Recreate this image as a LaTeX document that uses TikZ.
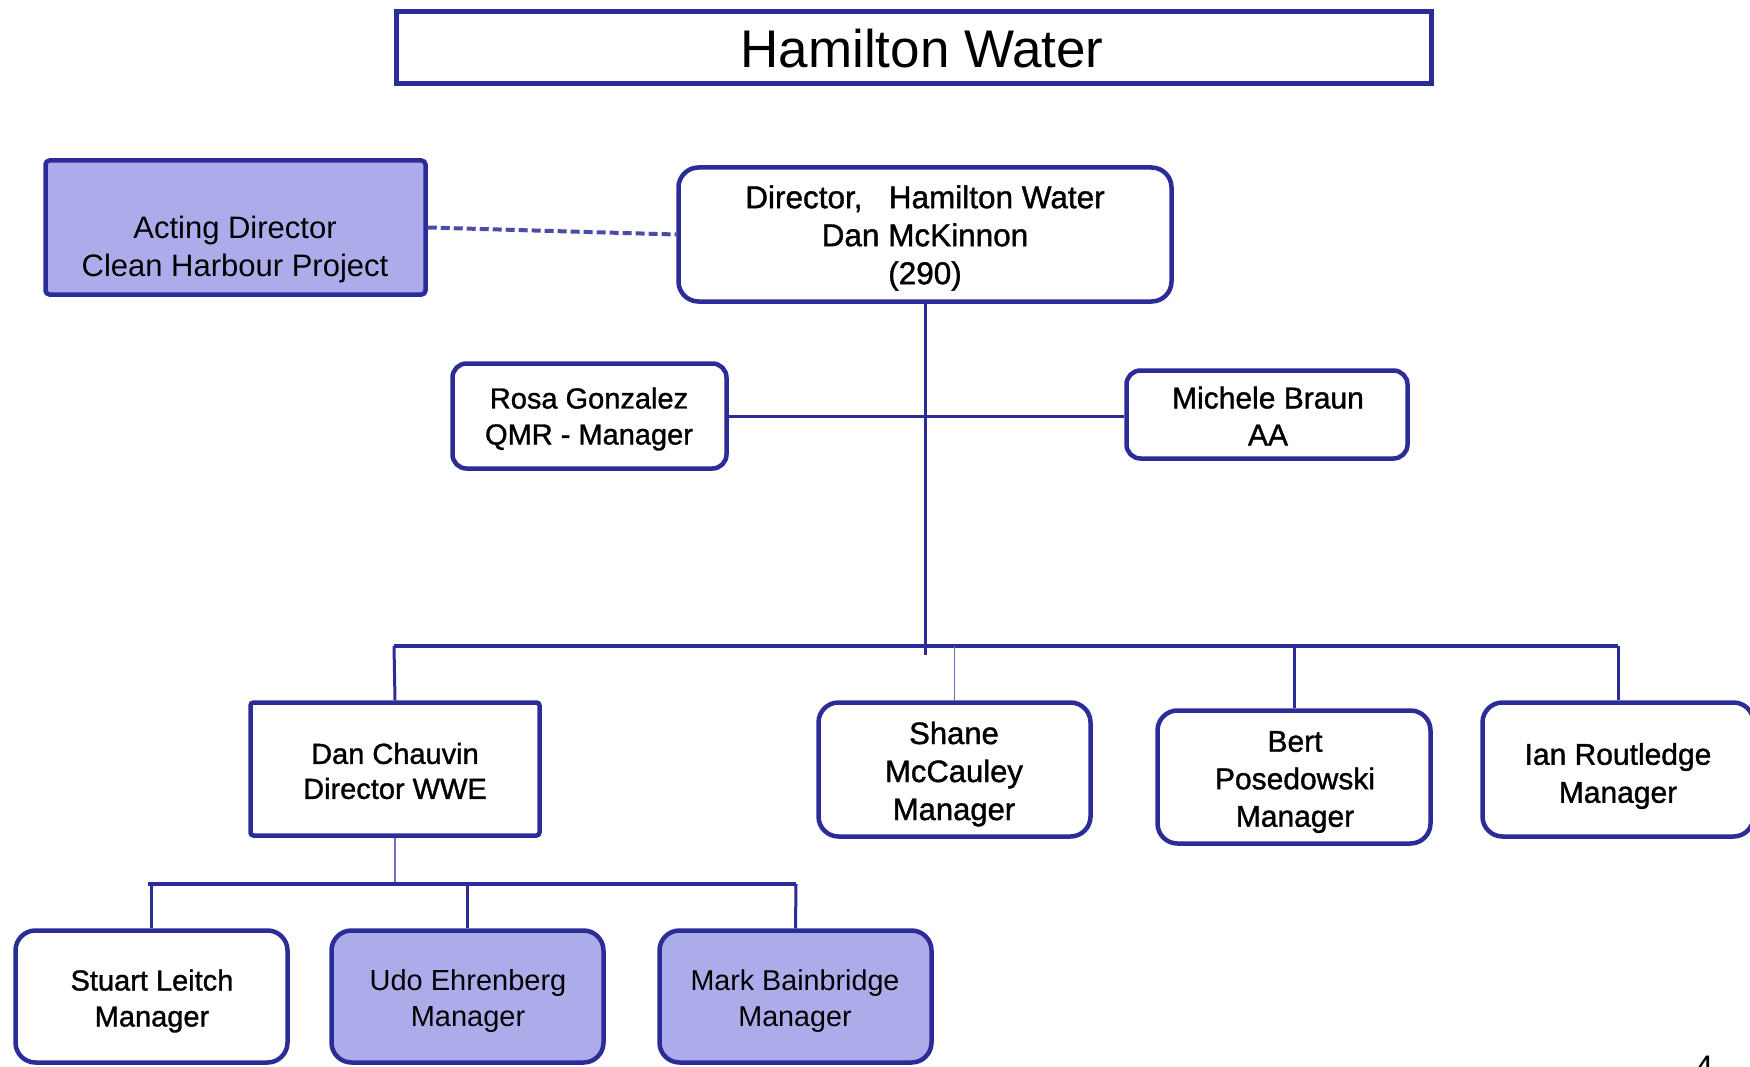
\documentclass[tikz,border=0pt]{standalone}
\usepackage{fontspec}
\setmainfont{Liberation Sans}
\newfontfamily\heavy[FakeBold=1.2]{Liberation Sans}
\definecolor{edge}{HTML}{2C2C98}
\definecolor{lav}{HTML}{ACACEA}
\definecolor{thinln}{HTML}{7070C0}
\begin{document}
\begin{tikzpicture}[x=1pt,y=-1pt,
  box/.style={draw=edge, line width=4.5pt, fill=white, inner sep=0pt, rounded corners=#1},
  box/.default=18pt,
  lavbox/.style={box=#1, fill=lav},
  lavbox/.default=18pt,
  txt/.style={align=center, inner sep=0pt, font=\fontsize{30}{37}\selectfont, text=black},
  conn/.style={draw=edge, line width=3pt},
  bus/.style={draw=edge, line width=4.5pt},
  thin/.style={draw=thinln, line width=1.5pt},
  dashconn/.style={draw=edge!85!white, line width=4pt, dash pattern=on 9pt off 4pt}
]
\useasboundingbox (0,0) rectangle (1750,1067);
\fill[white] (0,0) rectangle (1750,1067);

% title
\node[box=0pt, minimum width=1035pt, minimum height=72pt] (title) at (914,47.5) {};
\node[txt, font=\fontsize{53}{60}\selectfont] (titleT) at (922,49) {Hamilton Water};

% top level
\node[lavbox=4pt, minimum width=380pt, minimum height=134pt] (acting) at (235.5,227.5) {};
\node[txt, font=\fontsize{31}{38}\selectfont] (actingT) at (235,249.5) {Acting Director\\Clean Harbour Project};

\node[box=20pt, minimum width=493pt, minimum height=134pt] (dir) at (925,234.5) {};
\node[txt, font=\heavy\fontsize{31.5}{38}\selectfont] (dirT) at (925,238) {Director,\ \ \ Hamilton Water\\Dan McKinnon\\(290)};

\node[box=14pt, minimum width=274pt, minimum height=105pt] (rosa) at (589.5,416) {};
\node[txt, font=\heavy\fontsize{29}{36}\selectfont] (rosaT) at (589,419) {Rosa Gonzalez\\QMR - Manager};

\node[box=14pt, minimum width=281pt, minimum height=88pt] (mich) at (1267,414.5) {};
\node[txt, font=\heavy\fontsize{30}{37}\selectfont] (michT) at (1268,416) {Michele Braun\\AA};

% second level
\node[box=3pt, minimum width=289pt, minimum height=133pt] (dan) at (395,769) {};
\node[txt, font=\heavy\fontsize{29}{35}\selectfont] (danT) at (395,771) {Dan Chauvin\\Director WWE};

\node[box=20pt, minimum width=272pt, minimum height=134pt] (shane) at (954.5,769.5) {};
\node[txt, font=\heavy\fontsize{31}{38}\selectfont] (shaneT) at (954,774) {Shane\\McCauley\\Manager};

\node[box=20pt, minimum width=273pt, minimum height=133pt] (bert) at (1294,777) {};
\node[txt, font=\heavy\fontsize{30}{37.5}\selectfont] (bertT) at (1295,782) {Bert\\Posedowski\\Manager};

\node[box=20pt, minimum width=271pt, minimum height=134pt] (ian) at (1618,769.5) {};
\node[txt, font=\heavy\fontsize{30}{38}\selectfont] (ianT) at (1618,776) {Ian Routledge\\Manager};

% third level
\node[box=20pt, minimum width=272pt, minimum height=132pt] (stuart) at (151.5,996.5) {};
\node[txt, font=\heavy\fontsize{29}{36}\selectfont] (stuartT) at (152,1001) {Stuart Leitch\\Manager};

\node[lavbox=20pt, minimum width=272pt, minimum height=132pt] (udo) at (467.5,996.5) {};
\node[txt, font=\fontsize{29}{36}\selectfont] (udoT) at (468,1001) {Udo Ehrenberg\\Manager};

\node[lavbox=20pt, minimum width=272pt, minimum height=132pt] (mark) at (795.5,996.5) {};
\node[txt, font=\fontsize{28.7}{36}\selectfont] (markT) at (795,1001) {Mark Bainbridge\\Manager};

% page number (cut off)
\node[txt, anchor=north, font=\fontsize{34}{40}\selectfont] (pagenum) at (1704,1056) {4};

% connectors
\draw[dashconn] (acting.east) -- (dir.west);
\draw[conn] (rosa.east) -- (rosa.east -| mich.west);

\coordinate (busL) at (394,646);
\coordinate (busR) at (1618,646);
\draw[bus] (busL) -- (busR);
\draw[conn] (dir.south) -- ([yshift=-9pt]dir.south |- busL);
\draw[conn] (busL) -- (dan.north);
\draw[thin] (shane.north |- busL) -- (shane.north);
\draw[conn] (bert.north |- busL) -- (bert.north);
\draw[conn] (busR) -- (ian.north);

\coordinate (bus2L) at (148,884);
\coordinate (bus2R) at (796,884);
\draw[thin] (dan.south) -- (dan.south |- bus2L);
\draw[bus] (bus2L) -- (bus2R);
\draw[conn] (stuart.north |- bus2L) -- (stuart.north);
\draw[conn] (udo.north |- bus2L) -- (udo.north);
\draw[conn] (bus2R) -- (mark.north);
\end{tikzpicture}
\end{document}
